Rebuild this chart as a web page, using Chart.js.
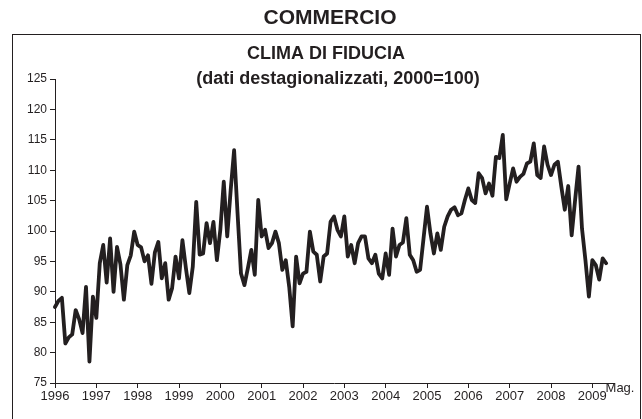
<!DOCTYPE html>
<html>
<head>
<meta charset="utf-8">
<script src="https://cdn.jsdelivr.net/npm/chart.js@4/dist/chart.umd.min.js"></script>
<style>
  html,body{margin:0;padding:0;background:#fff;}
  #wrap{position:relative;width:642px;height:419px;}
</style>
</head>
<body>
<div id="wrap"><canvas id="chart" width="642" height="419"></canvas></div>
<script>
// Data: monthly confidence index, Jan 1996 - May 2009
const years = ['1996','1997','1998','1999','2000','2001','2002','2003','2004','2005','2006','2007','2008','2009'];
const v1996 = [87.5, 88.5, 89, 81.5, 82.5, 83, 87, 85.5, 83.2, 90.8, 78.5, 89.2];
const v1997 = [85.7, 94.7, 97.7, 91.5, 98.8, 90, 97.4, 94.5, 88.7, 94.4, 96, 99.9];
const v1998 = [97.7, 97.3, 95, 96, 91.3, 96.5, 98.2, 92.2, 94.7, 88.7, 90.6, 95.8];
const v1999 = [92.2, 98.5, 93.9, 89.8, 94.1, 104.8, 96.1, 96.3, 101.3, 98, 101.5, 95.2];
const v2000 = [100.2, 108.1, 99.1, 106.7, 113.3, 102.9, 93, 91.1, 93.9, 96.9, 92.8, 105.1];
const v2001 = [99.1, 100.2, 97.2, 98, 99.9, 98, 93.6, 95.2, 90.8, 84.3, 95.8, 91.4];
const v2002 = [93, 93.3, 99.9, 96.6, 96.1, 91.7, 95.8, 96.3, 101.5, 102.4, 100.2, 99.1];
const v2003 = [102.4, 95.8, 97.7, 94.7, 98, 99.1, 99.1, 95.5, 94.7, 96.1, 93, 92.2];
const v2004 = [96.3, 92.8, 100.4, 95.8, 97.7, 98.1, 102.1, 96.1, 95.2, 93.3, 93.6, 98.8];
const v2005 = [104, 99.6, 96.3, 99.6, 96.9, 100.7, 102.4, 103.5, 103.9, 102.6, 102.9, 105.1];
const v2006 = [107, 105.1, 104.6, 109.5, 108.7, 106.2, 107.8, 105.8, 112.2, 112, 115.8, 105.2];
const v2007 = [107.8, 110.3, 108.1, 108.9, 109.4, 111.1, 111.4, 114.4, 109.2, 108.7, 113.9, 110.9];
const v2008 = [109.2, 110.9, 111.4, 107.3, 103.5, 107.4, 99.3, 105.1, 110.6, 100.4, 95.2, 89.2];
const v2009 = [95.2, 94.4, 92, 95.5, 94.7];
const yTicks = [75, 80, 85, 90, 95, 100, 105, 110, 115, 120, 125];

const values = [].concat(v1996,v1997,v1998,v1999,v2000,v2001,v2002,v2003,v2004,v2005,v2006,v2007,v2008,v2009);

// month categories, axis runs a couple of months past the last value
const labels = [];
years.forEach(y=>{ for(let m=1;m<=12;m++) labels.push(y+'-'+m); });
labels.length = values.length + 2;

const ink = '#231f20';
const font = "'Liberation Sans', Arial, sans-serif";

// frame, titles and the "Mag." note
const decor = {
  id:'decor',
  beforeDraw(chart){
    const c = chart.ctx;
    c.save();
    c.fillStyle='#fff'; c.fillRect(0,0,chart.width,chart.height);
    c.strokeStyle=ink; c.lineWidth=1;
    c.strokeRect(12.5,34.5,628,400);
    c.fillStyle=ink; c.textAlign='center'; c.textBaseline='middle';
    c.font="bold 21px "+font; c.fillText('COMMERCIO',330,18);
    c.font="bold 18px "+font; c.fillText('CLIMA DI FIDUCIA',326,54);
    c.font="bold 18px "+font; c.fillText('(dati destagionalizzati, 2000=100)',338,79);
    c.font="13px "+font; c.fillText('Mag.',620,388);
    c.restore();
  }
};

new Chart(document.getElementById('chart'), {
  type:'line',
  data:{labels:labels, datasets:[{data:values, borderColor:ink, borderWidth:3.8, pointRadius:0, tension:0, borderJoinStyle:'round', borderCapStyle:'round', fill:false}]},
  options:{
    responsive:false, animation:false, devicePixelRatio:1,
    layout:{padding:{top:79,right:29,bottom:0,left:0}},
    plugins:{legend:{display:false}, tooltip:{enabled:false}},
    scales:{
      x:{
        offset:false,
        grid:{drawOnChartArea:false, drawTicks:true, tickLength:5, tickColor:ink},
        border:{display:true, color:ink, width:1},
        ticks:{autoSkip:false, maxRotation:0, color:ink, font:{family:font,size:13}, padding:1,
          callback:(v,i)=> i%12===0 ? years[i/12] : null},
        afterFit:s=>{s.height=36;}
      },
      y:{
        min:75, max:125,
        afterBuildTicks:s=>{s.ticks=yTicks.map(v=>({value:v}));},
        grid:{drawOnChartArea:false, drawTicks:true, tickLength:5, tickColor:ink},
        border:{display:true, color:ink, width:1},
        ticks:{color:ink, font:{family:font,size:12}, padding:3},
        afterFit:s=>{s.width=55;}
      }
    }
  },
  plugins:[decor]
});
</script>
</body>
</html>
